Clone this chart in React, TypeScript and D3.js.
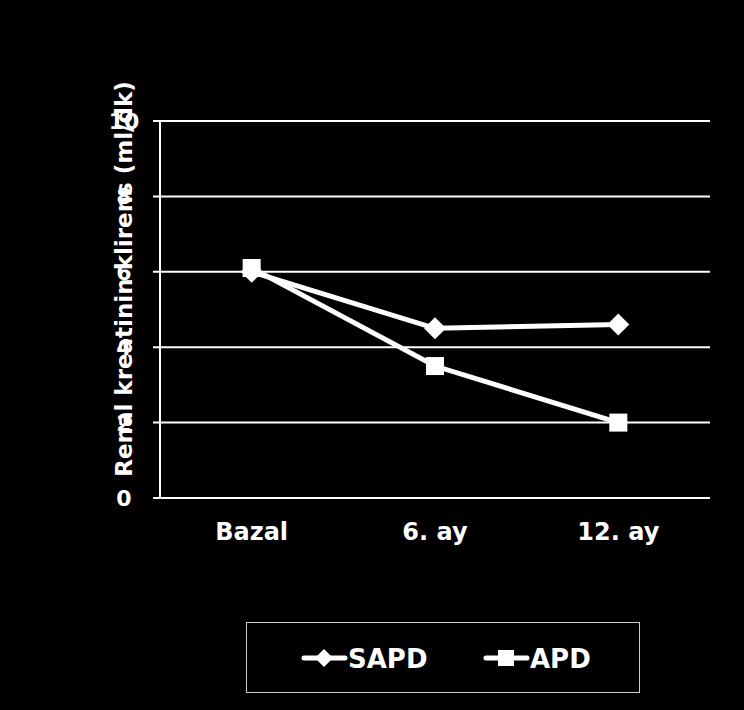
import React from "react";
import * as d3 from "d3";

const categories = ["Bazal", "6. ay", "12. ay"];
const sapd = [6.0, 4.5, 4.6];
const apd = [6.1, 3.5, 2.0];
const yTicks = [0, 2, 4, 6, 8, 10];
const seriesNames = ["SAPD", "APD"];

const W = 744, H = 710;
const left = 160, right = 710, top = 121, bottom = 498;
const FONT = "'Comic Sans MS', 'DejaVu Sans', sans-serif";

export default function App() {
  const x = d3.scaleBand<string>().domain(categories).range([left, right]);
  const y = d3.scaleLinear().domain([0, 10]).range([bottom, top]);
  const line = d3.line<number>()
    .x((_, i) => (x(categories[i]) as number) + x.bandwidth() / 2)
    .y((d) => y(d));
  const diamond = (cx: number, cy: number, r: number) =>
    `M${cx},${cy - r}L${cx + r},${cy}L${cx},${cy + r}L${cx - r},${cy}Z`;
  const sq = 18;
  return (
    <svg width={W} height={H} style={{ position: "absolute", left: 0, top: 0, background: "#000" }}>
      <rect x={0} y={0} width={W} height={H} fill="#000" />
      {yTicks.map((t) => (
        <g key={t}>
          <line x1={left - 7} x2={right} y1={y(t)} y2={y(t)} stroke="#fff" strokeWidth={2} />
          <text x={124} y={y(t)} dy="0.36em" fill="#fff" fontFamily={FONT} fontWeight="bold" fontSize={22} textAnchor="middle">{t}</text>
        </g>
      ))}
      <line x1={left} x2={left} y1={top} y2={bottom} stroke="#fff" strokeWidth={2} />
      {categories.map((c) => (
        <text key={c} x={(x(c) as number) + x.bandwidth() / 2} y={540} fill="#fff" fontFamily={FONT} fontWeight="bold" fontSize={24} textAnchor="middle">{c}</text>
      ))}
      <text transform={`translate(124,${(80 + 478) / 2}) rotate(-90)`} fill="#fff" fontFamily={FONT} fontWeight="bold" fontSize={23} textAnchor="middle" dy="0.35em">Renal kreatinin klirens (ml/dk)</text>
      <path d={line(sapd) as string} fill="none" stroke="#fff" strokeWidth={5} />
      <path d={line(apd) as string} fill="none" stroke="#fff" strokeWidth={5} />
      {sapd.map((v, i) => (
        <path key={"s" + i} d={diamond((x(categories[i]) as number) + x.bandwidth() / 2, y(v), 11)} fill="#fff" />
      ))}
      {apd.map((v, i) => (
        <rect key={"a" + i} x={(x(categories[i]) as number) + x.bandwidth() / 2 - sq / 2} y={y(v) - sq / 2} width={sq} height={sq} fill="#fff" />
      ))}
      <rect x={246.5} y={622.5} width={393} height={70} fill="none" stroke="#ccc" strokeWidth={1} />
      <line x1={304} x2={345} y1={658} y2={658} stroke="#fff" strokeWidth={5} strokeLinecap="round" />
      <path d={diamond(324, 658, 9)} fill="#fff" />
      <text x={348} y={668} fill="#fff" fontFamily={FONT} fontWeight="bold" fontSize={26}>{seriesNames[0]}</text>
      <line x1={486} x2={527} y1={658} y2={658} stroke="#fff" strokeWidth={5} strokeLinecap="round" />
      <rect x={498} y={650} width={16} height={16} fill="#fff" />
      <text x={530} y={668} fill="#fff" fontFamily={FONT} fontWeight="bold" fontSize={26}>{seriesNames[1]}</text>
    </svg>
  );
}
